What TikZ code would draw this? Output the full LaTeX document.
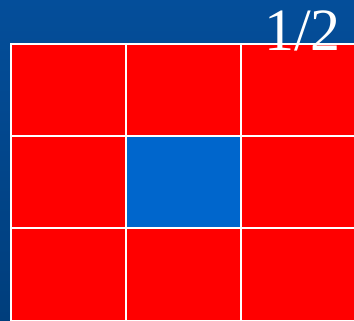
\documentclass[tikz,border=0pt]{standalone}
\usepackage{fontspec}
\setmainfont{Liberation Serif}
\definecolor{bgtop}{RGB}{4,78,154}
\definecolor{bgbot}{RGB}{0,62,124}
\definecolor{cellred}{RGB}{255,0,0}
\definecolor{cellblue}{RGB}{0,102,204}
\begin{document}
\begin{tikzpicture}[x=1pt,y=1pt,
  cell/.style={draw=white,line width=2pt,fill=cellred},
  centercell/.style={draw=white,line width=2pt,fill=cellblue}]
\useasboundingbox (0,0) rectangle (354,321);
\shade[top color=bgtop,bottom color=bgbot] (0,0) rectangle (354,321);
\begin{scope}
\clip (0,0) rectangle (354,321);
% row 1 (top)
\path[cell] (11,277) rectangle (126,185);
\path[cell] (126,277) rectangle (241,185);
\path[cell] (241,277) rectangle (356,185);
% row 2
\path[cell] (11,185) rectangle (126,93);
\path[centercell] (126,185) rectangle (241,93);
\path[cell] (241,185) rectangle (356,93);
% row 3
\path[cell] (11,93) rectangle (126,0);
\path[cell] (126,93) rectangle (241,0);
\path[cell] (241,93) rectangle (356,0);
\end{scope}
\node[anchor=base east,inner sep=0pt,text=white,font=\fontsize{60}{60}\selectfont] (lbl) at (341,270) {1/2};
\end{tikzpicture}
\end{document}
